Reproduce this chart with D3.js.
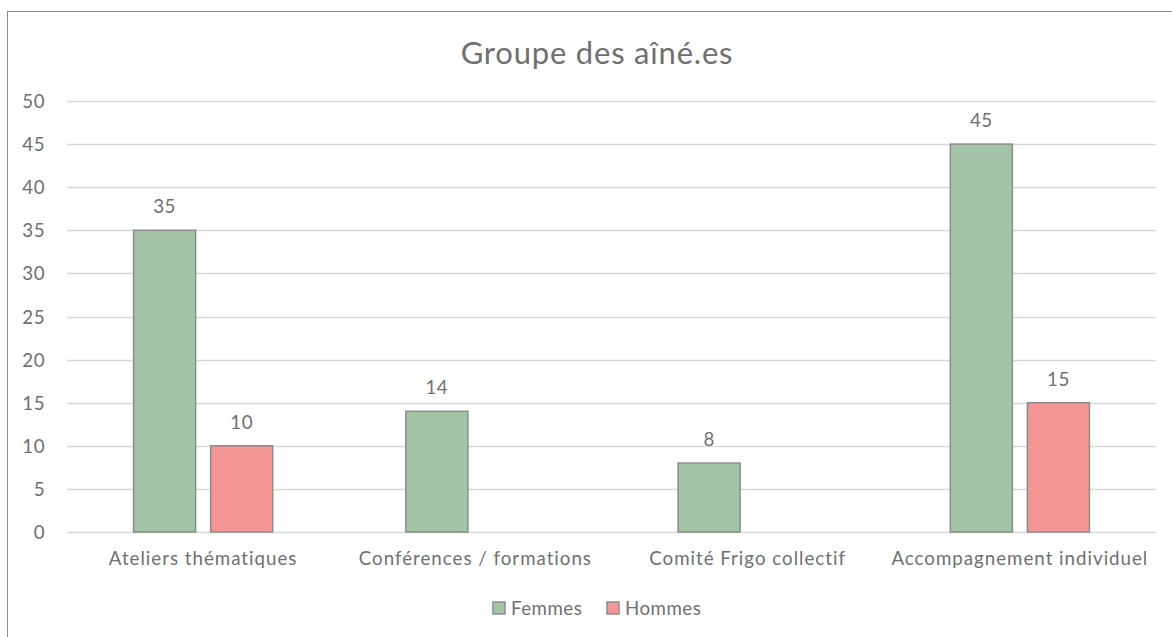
<!DOCTYPE html>
<html>
<head>
<meta charset="utf-8">
<script src="https://cdn.jsdelivr.net/npm/d3@7"></script>
<style>
  body { margin: 0; background: #fff; }
  text { font-family: "Lato", "Open Sans", sans-serif; fill: #707070; }
</style>
</head>
<body>
<div id="chart"></div>
<script>
var categories = ["Ateliers thématiques", "Conférences / formations", "Comité Frigo collectif", "Accompagnement individuel"];
var seriesNames = ["Femmes", "Hommes"];
var femmes = [35, 14, 8, 45];
var hommes = [10, null, null, 15];
var yTicks = [0, 5, 10, 15, 20, 25, 30, 35, 40, 45, 50];
var colors = {Femmes: "#a3c4a6", Hommes: "#f49696"};

var W = 1172, H = 637;
var margin = {top: 101, right: 16, bottom: 105, left: 67},
    width = W - margin.left - margin.right,
    height = H - margin.top - margin.bottom;

var root = d3.select("#chart").append("svg")
    .attr("width", W)
    .attr("height", H);

// chart frame (goes past the right/bottom edge)
root.append("rect")
    .attr("x", 7.5).attr("y", 11.5)
    .attr("width", W + 20).attr("height", H + 20)
    .attr("fill", "none")
    .attr("stroke", "#8c8c8c")
    .attr("stroke-width", 1);

root.append("text")
    .attr("x", 597).attr("y", 64)
    .attr("text-anchor", "middle")
    .style("font-size", "31px")
    .style("letter-spacing", "0.8px")
    .text("Groupe des aîné.es");

var svg = root.append("g")
    .attr("transform", "translate(" + margin.left + "," + margin.top + ")");

var x = d3.scaleBand().domain(categories).range([0, width]);
var y = d3.scaleLinear().domain([0, 50]).range([height, 0]);
var xs = d3.scaleBand().domain(seriesNames).range([0, x.bandwidth()]).paddingInner(0.195).paddingOuter(0.864);

// gridlines
svg.append("g").selectAll("line")
  .data(yTicks)
  .enter().append("line")
    .attr("x1", 0).attr("x2", width)
    .attr("y1", function(d) { return Math.round(y(d)) + 0.5; })
    .attr("y2", function(d) { return Math.round(y(d)) + 0.5; })
    .attr("stroke", "#d9d9d9")
    .attr("stroke-width", 1.5);

// y labels
svg.append("g").selectAll("text")
  .data(yTicks)
  .enter().append("text")
    .attr("x", -22)
    .attr("y", function(d) { return y(d) + 7; })
    .attr("text-anchor", "end")
    .style("font-size", "18.7px")
    .style("letter-spacing", "0.5px")
    .text(function(d) { return d; });

var rows = [];
categories.forEach(function(c, i) {
  rows.push({cat: c, s: "Femmes", v: femmes[i]});
  rows.push({cat: c, s: "Hommes", v: hommes[i]});
});
rows = rows.filter(function(d) { return d.v != null; });

svg.append("g").selectAll("rect")
  .data(rows)
  .enter().append("rect")
    .attr("x", function(d) { return x(d.cat) + xs(d.s); })
    .attr("y", function(d) { return y(d.v); })
    .attr("width", xs.bandwidth())
    .attr("height", function(d) { return height - y(d.v); })
    .attr("fill", function(d) { return colors[d.s]; })
    .attr("stroke", "#8c8c8c")
    .attr("stroke-width", 1.5);

svg.append("g").selectAll("text")
  .data(rows)
  .enter().append("text")
    .attr("x", function(d) { return x(d.cat) + xs(d.s) + xs.bandwidth() / 2; })
    .attr("y", function(d) { return y(d.v) - 17; })
    .attr("text-anchor", "middle")
    .style("font-size", "18.7px")
    .style("letter-spacing", "0.5px")
    .text(function(d) { return d.v; });

// category labels
svg.append("g").selectAll("text")
  .data(categories)
  .enter().append("text")
    .attr("x", function(d) { return x(d) + x.bandwidth() / 2; })
    .attr("y", height + 33)
    .attr("text-anchor", "middle")
    .style("font-size", "18.7px")
    .style("letter-spacing", "1px")
    .text(function(d) { return d; });

// legend
var legendX = [493, 607];
var lg = root.append("g").selectAll("g")
  .data(seriesNames)
  .enter().append("g")
    .attr("transform", function(d, i) { return "translate(" + legendX[i] + ",602)"; });
lg.append("rect")
    .attr("width", 12).attr("height", 12)
    .attr("fill", function(d) { return colors[d]; })
    .attr("stroke", "#8c8c8c")
    .attr("stroke-width", 1.5);
lg.append("text")
    .attr("x", 18).attr("y", 13)
    .style("font-size", "18.7px")
    .style("letter-spacing", "0.5px")
    .text(function(d) { return d; });
</script>
</body>
</html>
